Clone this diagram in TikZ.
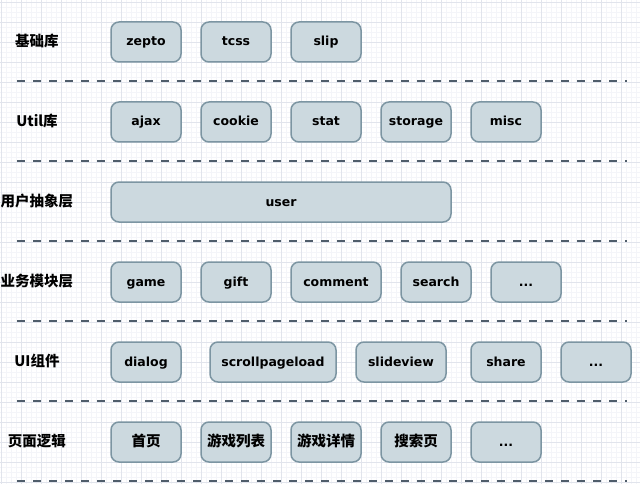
\documentclass[tikz,border=0pt]{standalone}
\usepackage{fontspec}
\setmainfont{DejaVu Sans}
\newfontfamily\cjk{Noto Sans CJK SC}
\usetikzlibrary{positioning}
\definecolor{modfill}{HTML}{CCD9DF}
\definecolor{modline}{HTML}{7C95A2}
\definecolor{sepline}{HTML}{4F5D6B}
\definecolor{gridminor}{HTML}{F4F5F9}
\definecolor{gridmajor}{HTML}{E1E4EC}

\begin{document}
\begin{tikzpicture}[x=1pt, y=-1pt,
  mod/.style = {draw=modline, fill=modfill, line width=1.5pt, rounded corners=8pt,
    minimum width=70pt, minimum height=40pt, inner sep=0pt, outer sep=0pt,
    text height=10pt, text depth=2pt,
    font=\fontsize{12.5}{14}\selectfont\bfseries},
  cn/.style = {text height=11pt, text depth=2pt, font=\fontsize{14.5}{16}\selectfont\cjk\bfseries},
  layer/.style = {text height=11pt, text depth=2pt, font=\fontsize{14.5}{16}\selectfont\cjk\bfseries},
  sep/.style = {draw=sepline, line width=2pt, dash pattern=on 8pt off 8pt}]
  \useasboundingbox (0,0) rectangle (640,484);
  \fill[white] (0,0) rectangle (640,484);
  \begin{scope}[shift={(1.7,2.7)}]
    \draw[gridminor, line width=0.5pt, step=5pt] (-5,-5) grid (640,484);
    \draw[gridmajor, line width=0.6pt, step=20pt] (-20,-20) grid (640,484);
  \end{scope}

  % layer names
  \node[layer] (lbase) at (37,42)  {基础库};
  \node[layer] (lutil) at (37,122) {Util库};
  \node[layer] (luser) at (37,202) {用户抽象层};
  \node[layer] (lbiz)  at (37,282) {业务模块层};
  \node[layer] (lui)   at (37,362) {UI组件};
  \node[layer] (lpage) at (37,442) {页面逻辑};

  % 基础库
  \node[mod] (zepto) at (146,42) {zepto};
  \node[mod, right = 20pt of zepto] (tcss) {tcss};
  \node[mod, right = 20pt of tcss] (slip) {slip};

  % Util库
  \node[mod] (ajax) at (146,122) {ajax};
  \node[mod, right = 20pt of ajax] (cookie) {cookie};
  \node[mod, right = 20pt of cookie] (stat) {stat};
  \node[mod, right = 20pt of stat] (storage) {storage};
  \node[mod, right = 20pt of storage] (misc) {misc};

  % 用户抽象层
  \node[mod, minimum width = 340pt] (user) at (281,202) {user};

  % 业务模块层
  \node[mod] (game) at (146,282) {game};
  \node[mod, right = 20pt of game] (gift) {gift};
  \node[mod, minimum width = 90pt, right = 20pt of gift] (comment) {comment};
  \node[mod, right = 20pt of comment] (search) {search};
  \node[mod, right = 20pt of search] (bizmore) {...};

  % UI组件
  \node[mod] (dialog) at (146,362) {dialog};
  \node[mod, minimum width = 126pt, right = 29pt of dialog] (scroll) {scrollpageload};
  \node[mod, minimum width = 90pt, right = 20pt of scroll] (slide) {slideview};
  \node[mod, right = 25pt of slide] (share) {share};
  \node[mod, right = 20pt of share] (uimore) {...};

  % 页面逻辑
  \node[mod, cn] (home) at (146,442) {首页};
  \node[mod, cn, right = 20pt of home] (glist) {游戏列表};
  \node[mod, cn, right = 20pt of glist] (gdetail) {游戏详情};
  \node[mod, cn, right = 20pt of gdetail] (gsearch) {搜索页};
  \node[mod, right = 20pt of gsearch] (pagemore) {...};

  % separators
  \draw[sep] (17,81)  -- (627,81);
  \draw[sep] (17,161) -- (627,161);
  \draw[sep] (17,241) -- (627,241);
  \draw[sep] (17,321) -- (627,321);
  \draw[sep] (17,401) -- (627,401);
  \draw[sep] (17,481) -- (627,481);
\end{tikzpicture}
\end{document}
